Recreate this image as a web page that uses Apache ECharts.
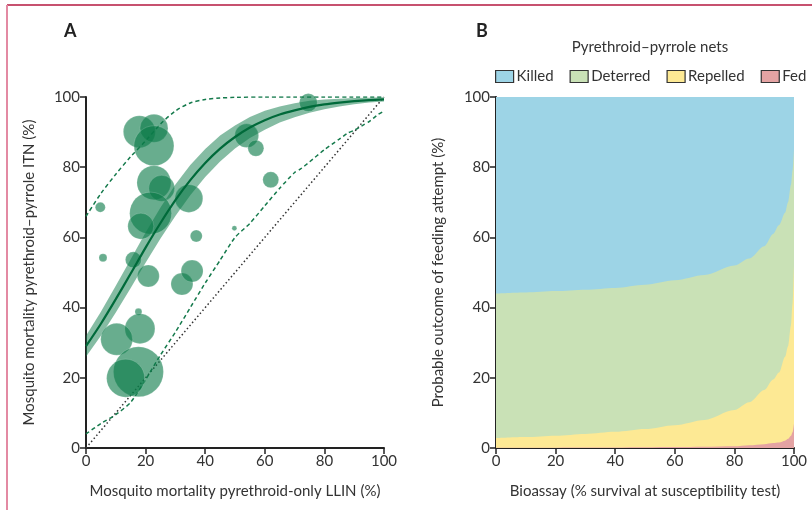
<!DOCTYPE html>
<html>
<head>
<meta charset="utf-8">
<script src="https://cdn.jsdelivr.net/npm/echarts@6/dist/echarts.min.js"></script>
<style>
html,body{margin:0;padding:0;background:#fff;}
#c{width:812px;height:510px;}
</style>
</head>
<body>
<div id="c"></div>
<script>
// ---------- Panel A data ----------
// bubbles: [pyrethroid-only LLIN mortality, pyrethroid-pyrrole ITN mortality, relative study weight]
var bubbleX = [17.9, 22.8, 22.8, 22.8, 25.4, 21.7, 18.4, 34.5, 53.9, 57.0, 62.0, 4.8, 37.0, 49.8, 74.6, 5.7, 15.9, 20.9, 32.2, 35.6, 17.6, 18.1, 10.3, 17.6, 13.3];
var bubbleY = [90.1, 91.1, 86.1, 75.6, 74.0, 66.9, 63.2, 71.1, 89.0, 85.4, 76.4, 68.6, 60.4, 62.6, 98.4, 54.2, 53.6, 49.0, 46.7, 50.4, 38.8, 34.0, 31.0, 21.7, 19.9];
var bubbleW = [256, 196, 400, 289, 169, 441, 169, 196, 144, 64, 64, 25, 36, 6, 81, 16, 64, 121, 121, 121, 12, 225, 256, 625, 361];

// fitted curve and credible band
var fitX     = [0, 5, 10, 15, 20, 25, 30, 35, 40, 45, 50, 55, 60, 65, 70, 75, 80, 85, 90, 95, 100];
var fitY     = [29, 35.4, 42.4, 49.7, 57.1, 64.1, 70.6, 76.3, 81.2, 85.3, 88.6, 91.3, 93.4, 95.0, 96.2, 97.2, 97.9, 98.4, 98.8, 99.1, 99.3];
var fitLower = [26, 32.0, 38.6, 45.6, 52.8, 59.7, 66.1, 72.0, 77.2, 81.6, 85.3, 88.3, 90.7, 92.7, 94.2, 95.5, 96.5, 97.3, 97.9, 98.4, 98.7];
var fitUpper = [32, 38.8, 46.2, 53.8, 61.4, 68.5, 75.1, 80.6, 85.2, 89.0, 91.9, 94.3, 96.1, 97.3, 98.2, 98.9, 99.3, 99.5, 99.7, 99.8, 99.9];

// prediction interval (dashed)
var piUpX = [0, 5, 10, 15, 20, 25, 30, 35, 40, 45, 50, 60, 70, 80, 90, 100];
var piUpY = [66, 72.5, 78, 83, 87.5, 92.3, 96, 98.3, 99.3, 99.7, 99.9, 100, 100, 100, 100, 100];
var piLoX = [0, 5, 10, 15, 20, 25, 30, 35, 40, 45, 50, 55, 60, 65, 70, 72, 75, 80, 85, 88, 90, 93, 95, 98, 100];
var piLoY = [4, 7, 9.5, 13, 19.5, 26.5, 33, 40, 47, 53.5, 60, 64, 69, 74, 78.5, 79.5, 81.5, 85, 88, 89.8, 90.5, 92, 93, 95, 96];

// line of equality (dotted)
var eqX = [0, 100];
var eqY = [0, 100];

// ---------- Panel B data (upper boundary of each stacked layer) ----------
var bioX      = [0, 10, 20, 30, 40, 50, 60, 70, 80, 85, 90, 93, 95, 97, 98, 99, 99.5, 100];
var fedTop    = [0.1, 0.1, 0.1, 0.12, 0.15, 0.2, 0.25, 0.35, 0.5, 0.8, 1.1, 1.4, 1.6, 2.1, 2.6, 3.5, 4.5, 7];
var repTop    = [2.8, 3.1, 3.5, 4.0, 4.6, 5.4, 6.5, 8.0, 10.8, 13, 16.5, 19.5, 21.5, 26, 29, 35, 41, 52];
var detTop    = [44, 44.3, 44.7, 45.1, 45.6, 46.5, 47.8, 49.3, 52, 54, 57.5, 61, 63.5, 67, 70, 75, 79, 85];
var killTop   = [100, 100, 100, 100, 100, 100, 100, 100, 100, 100, 100, 100, 100, 100, 100, 100, 100, 100];
var outcomeNames = ['Killed', 'Deterred', 'Repelled', 'Fed'];

// ---------- build ----------
function pairs(xs, ys) { return xs.map(function (x, i) { return [x, ys[i]]; }); }
var bubbles = bubbleX.map(function (x, i) { return [x, bubbleY[i], bubbleW[i]]; });
var bandRows = fitX.map(function (x, i) { return [x, fitLower[i], fitUpper[i]]; });

var FONT = 'Lato';
var txt = '#333';
function valAxis(idx, name, gap) {
  return {
    type: 'value', gridIndex: idx, min: 0, max: 100, interval: 20,
    name: name, nameLocation: 'middle', nameGap: gap,
    nameTextStyle: { fontFamily: FONT, fontSize: 15, color: txt },
    axisLine: { show: true, lineStyle: { color: '#222', width: 2 } },
    axisTick: { show: true, length: 6, lineStyle: { color: '#222', width: 1.5 } },
    axisLabel: { fontFamily: FONT, fontSize: 15, color: txt, margin: 6 },
    splitLine: { show: false }
  };
}

function areaLayer(name, tops, color, z) {
  return { name: name, type: 'line', xAxisIndex: 1, yAxisIndex: 1, data: pairs(bioX, tops), symbol: 'none',
    smooth: 0.3, smoothMonotone: 'x', lineStyle: { width: 0 }, itemStyle: { color: color },
    areaStyle: { color: color, opacity: 1, origin: 'start' }, z: z };
}

var green = '#0b7a47';
var option = {
  animation: false,
  backgroundColor: '#fff',
  title: [
    { text: 'A', left: 59, top: 17, textStyle: { fontFamily: FONT, fontWeight: 'bold', fontSize: 18, color: '#222' } },
    { text: 'B', left: 471, top: 17, textStyle: { fontFamily: FONT, fontWeight: 'bold', fontSize: 18, color: '#222' } },
    { text: 'Pyrethroid\u2013pyrrole nets', left: 645, top: 35, textAlign: 'center', textStyle: { fontFamily: FONT, fontWeight: 'normal', fontSize: 15, color: txt } }
  ],
  legend: {
    data: outcomeNames, left: 490, top: 64, width: 330, icon: 'rect', itemWidth: 18, itemHeight: 12, itemGap: 16,
    textStyle: { fontFamily: FONT, fontSize: 15, color: txt, padding: [0, 0, 0, -2] },
    itemStyle: { borderColor: '#333', borderWidth: 1.2 }
  },
  grid: [
    { left: 86, right: 428, top: 97, bottom: 62 },
    { left: 496, right: 18, top: 97, bottom: 62 }
  ],
  xAxis: [
    valAxis(0, 'Mosquito mortality pyrethroid-only LLIN (%)', 36),
    valAxis(1, 'Bioassay (% survival at susceptibility test)', 36)
  ],
  yAxis: [
    valAxis(0, 'Mosquito mortality pyrethroid\u2013pyrrole ITN (%)', 49),
    valAxis(1, 'Probable outcome of feeding attempt (%)', 50)
  ],
  graphic: [
    { type: 'line', shape: { x1: 7, y1: 5, x2: 812, y2: 5 }, style: { stroke: '#b5173f', lineWidth: 1.5 } },
    { type: 'line', shape: { x1: 7, y1: 5, x2: 7, y2: 510 }, style: { stroke: '#e38aa3', lineWidth: 2 } }
  ],
  series: [
    // Panel A
    { name: 'eq', type: 'line', xAxisIndex: 0, yAxisIndex: 0, data: pairs(eqX, eqY), symbol: 'none',
      lineStyle: { color: '#333', width: 1.5, type: [1.5, 2.5] }, z: 1 },
    { name: 'band', type: 'custom', xAxisIndex: 0, yAxisIndex: 0, data: bandRows, z: 2,
      renderItem: function (params, api) {
        if (params.dataIndex !== 0) return null;
        var pts = [];
        for (var i = 0; i < bandRows.length; i++) pts.push(api.coord([bandRows[i][0], bandRows[i][2]]));
        for (var j = bandRows.length - 1; j >= 0; j--) pts.push(api.coord([bandRows[j][0], bandRows[j][1]]));
        return { type: 'polygon', shape: { points: pts }, style: { fill: green, opacity: 0.5 } };
      } },
    { name: 'piUp', type: 'line', xAxisIndex: 0, yAxisIndex: 0, data: pairs(piUpX, piUpY), symbol: 'none', smooth: 0.3,
      lineStyle: { color: '#157a4c', width: 1.5, type: [4, 3] }, z: 3 },
    { name: 'piLo', type: 'line', xAxisIndex: 0, yAxisIndex: 0, data: pairs(piLoX, piLoY), symbol: 'none', smooth: 0.2,
      lineStyle: { color: '#157a4c', width: 1.5, type: [4, 3] }, z: 3 },
    { name: 'studies', type: 'scatter', xAxisIndex: 0, yAxisIndex: 0, data: bubbles,
      symbolSize: function (v) { return 2 * Math.sqrt(v[2]); },
      itemStyle: { color: '#0c7a48', opacity: 0.62, borderColor: 'rgba(255,255,255,0.45)', borderWidth: 0.6 }, z: 4 },
    { name: 'fit', type: 'line', xAxisIndex: 0, yAxisIndex: 0, data: pairs(fitX, fitY), symbol: 'none', smooth: 0.3,
      lineStyle: { color: '#006a3a', width: 2.2 }, z: 5 },
    // Panel B: layers painted from the top boundary down
    areaLayer('Killed', killTop, '#9dd4e6', 2),
    areaLayer('Deterred', detTop, '#c9e1b6', 3),
    areaLayer('Repelled', repTop, '#fde994', 4),
    areaLayer('Fed', fedTop, '#e4a3a3', 5)
  ]
};
var chart = echarts.init(document.getElementById('c'), null, { renderer: 'canvas' });
chart.setOption(option);
</script>
</body>
</html>
